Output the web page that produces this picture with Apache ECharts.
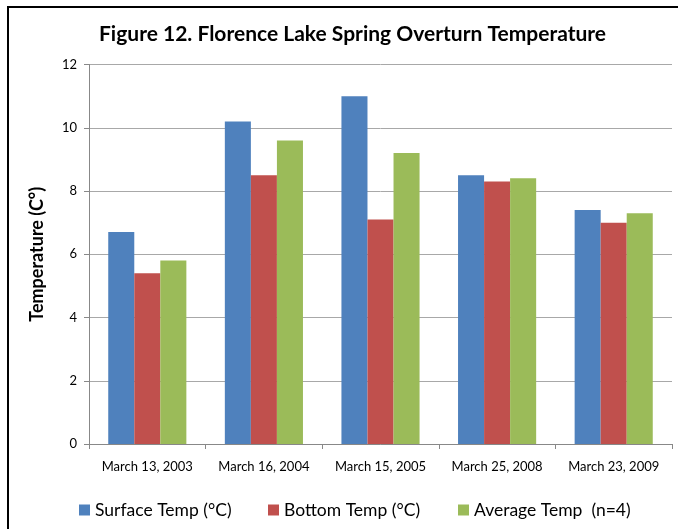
<!DOCTYPE html>
<html>
<head>
<meta charset="utf-8">
<script src="https://cdn.jsdelivr.net/npm/echarts@6/dist/echarts.min.js"></script>
<style>
html,body{margin:0;padding:0;background:#fff;}
#chart{width:678px;height:529px;}
</style>
</head>
<body>
<div id="chart"></div>
<script>
const categories = ["March 13, 2003", "March 16, 2004", "March 15, 2005", "March 25, 2008", "March 23, 2009"];
const surfaceTemp = [6.7, 10.2, 11.0, 8.5, 7.4];
const bottomTemp = [5.4, 8.5, 7.1, 8.3, 7.0];
const averageTemp = [5.8, 9.6, 9.2, 8.4, 7.3];
const seriesNames = ["Surface Temp (°C)", "Bottom Temp (°C)", "Average Temp  (n=4)"];
const yTicks = [0, 2, 4, 6, 8, 10, 12];

const colors = ["#4F81BD", "#C0504D", "#9BBB59"];
const FONT = "Lato, 'Open Sans', sans-serif";

const chart = echarts.init(document.getElementById('chart'), null, {renderer: 'canvas'});

const legendPos = [74, 263, 453];
const legends = seriesNames.map((n, i) => ({
  data: [n],
  left: legendPos[i],
  top: 496,
  itemWidth: 11,
  itemHeight: 11,
  itemGap: 6,
  icon: 'rect',
  textStyle: {fontFamily: FONT, fontSize: 17.5, color: '#000'}
}));

chart.setOption({
  animation: false,
  color: colors,
  title: {
    text: "Figure 12. Florence Lake Spring Overturn Temperature",
    left: 94,
    top: 19,
    textStyle: {fontFamily: FONT, fontSize: 21, fontWeight: 'bold', color: '#000'}
  },
  graphic: [{
    type: 'rect',
    shape: {x: 8, y: 7, width: 720, height: 600},
    style: {fill: 'none', stroke: '#000', lineWidth: 2},
    silent: true
  }],
  legend: legends,
  grid: {left: 89, right: 6, top: 64.5, bottom: 85, containLabel: false},
  xAxis: {
    type: 'category',
    data: categories,
    axisLine: {lineStyle: {color: '#888', width: 1}},
    axisTick: {show: true, length: 5, inside: false, alignWithLabel: false, lineStyle: {color: '#888'}},
    axisLabel: {fontFamily: FONT, fontSize: 13, color: '#000', margin: 16, interval: 0}
  },
  yAxis: {
    type: 'value',
    min: yTicks[0],
    max: yTicks[yTicks.length - 1],
    interval: 2,
    name: "Temperature (C°)",
    nameLocation: 'middle',
    nameRotate: 90,
    nameGap: 43,
    nameTextStyle: {fontFamily: FONT, fontSize: 18, fontWeight: 'bold', color: '#000'},
    axisLine: {show: true, lineStyle: {color: '#888', width: 1}},
    axisTick: {show: true, length: 5, lineStyle: {color: '#888'}},
    axisLabel: {fontFamily: FONT, fontSize: 13, color: '#000', margin: 12},
    splitLine: {show: true, lineStyle: {color: '#a8a8a8', width: 1}}
  },
  series: [
    {name: seriesNames[0], type: 'bar', data: surfaceTemp, barGap: '0%', barCategoryGap: '33%'},
    {name: seriesNames[1], type: 'bar', data: bottomTemp, barGap: '0%', barCategoryGap: '33%'},
    {name: seriesNames[2], type: 'bar', data: averageTemp, barGap: '0%', barCategoryGap: '33%'}
  ]
});
</script>
</body>
</html>
